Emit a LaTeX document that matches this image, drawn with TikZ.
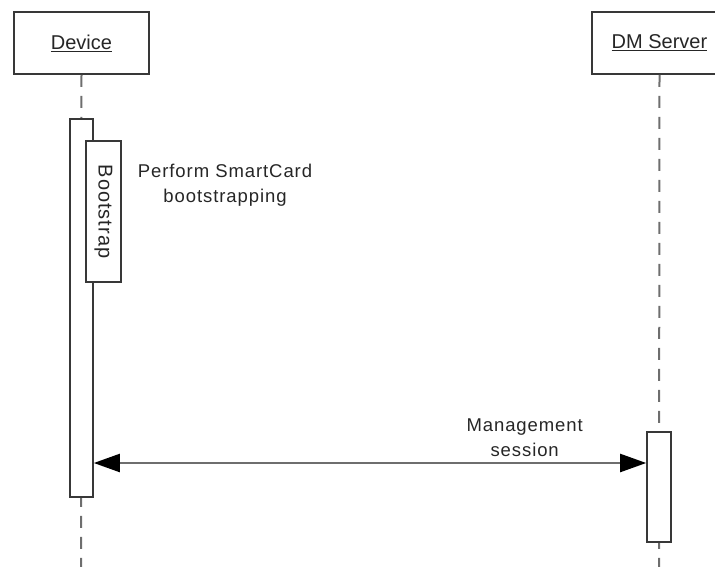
\documentclass[tikz,border=0pt]{standalone}
\usepackage{fontspec}
\setmainfont{Liberation Sans}
\usepackage{xcolor}
\usepackage{tikz}
\usetikzlibrary{positioning}
\usetikzlibrary{arrows.meta}
\definecolor{boxgray}{HTML}{383838}
\definecolor{linegray}{HTML}{6E6E6E}
\definecolor{textgray}{HTML}{262626}
\newfontfamily\msgfont[LetterSpace=5]{Liberation Sans}
\tikzset {
  % object boxes at the top
  actor/.style = {draw=boxgray, line width=1.8pt, fill=white, minimum width=135pt,
    minimum height=62pt, inner sep=0pt, text=textgray, font=\fontsize{20}{22}\selectfont},
  % lifeline below each object
  lifeline/.style={draw=linegray, line width=2pt, dash pattern=on 12pt off 9pt},
  % activation bars
  activation/.style={draw=boxgray, line width=1.6pt, fill=white, inner sep=0pt},
  % message texts
  msg/.style={align=center, inner sep=0pt, text=textgray, font=\msgfont\fontsize{18.5}{25}\selectfont},
  message/.style={draw=linegray, line width=2.2pt, {Triangle[length=26pt,width=18pt,black]}-{Triangle[length=26pt,width=18pt,black]}},
}

\begin{document}
\begin{tikzpicture}[x=1pt, y=-1pt]
        \useasboundingbox (0,0) rectangle (715,567);
        \clip (0,0) rectangle (715,567);

        \node[actor] (device) at (81.5,43) {\underline{Device}};
        \node[actor] (server) at (659.5,43) {\underline{DM Server}};

        \coordinate (deviceEnd) at (81,567);
        \coordinate (serverEnd) at (659,567);
        \draw[lifeline] (device.south) -- (deviceEnd);
        \draw[lifeline] (server.south) -- (serverEnd);

        \node[activation, minimum width=23pt, minimum height=378pt] (deviceAct) at (81.5,308) {};
        \node[activation, minimum width=35pt, minimum height=141pt] (bootAct) at (103.5,211.5)
          {\rotatebox{-90}{\msgfont\fontsize{20}{22}\selectfont\color{textgray}Bootstrap}};
        \node[activation, minimum width=24pt, minimum height=110pt] (serverAct) at (659,487) {};

        \node[msg] (bootLabel) at (225,185) {Perform SmartCard\\bootstrapping};

        \coordinate (msgY) at (0,463);
        \draw[message] (deviceAct.east |- msgY) -- node[msg, pos=0.78, above=5pt] (mgmtLabel)
          {Management\\session} (serverAct.west |- msgY);
      \end{tikzpicture}
\end{document}
